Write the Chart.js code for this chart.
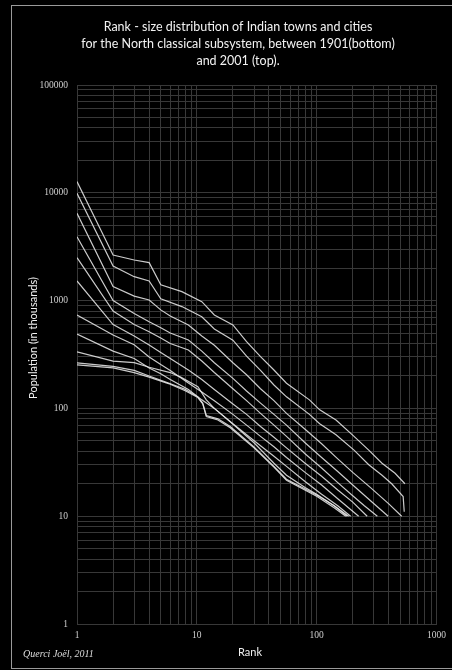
<!DOCTYPE html>
<html>
<head>
<meta charset="utf-8">
<script src="https://cdn.jsdelivr.net/npm/chart.js@4"></script>
<style>
  html, body { margin: 0; padding: 0; background: #000; }
  #wrap { width: 452px; height: 670px; position: relative; }
</style>
</head>
<body>
<div id="wrap"><canvas id="rankChart"></canvas></div>
<script>
// census years, bottom (1901) to top (2001)
const years = [1901, 1911, 1921, 1931, 1941, 1951, 1961, 1971, 1981, 1991, 2001];

// rank / population (thousands), one pair per census
const rank1901 = [1, 2, 3, 4, 5.8, 8, 10.2, 11.2, 12, 15, 19, 30, 44, 56, 100, 140, 175];
const pop1901  = [253, 238, 215, 195, 170, 146, 126, 110, 84, 78, 66, 43, 28.5, 21.5, 15.3, 12, 10];
const rank1911 = [1, 2, 3, 4, 5.8, 8, 10.2, 11.2, 12, 15, 19, 30, 44, 56, 100, 140, 180];
const pop1911  = [264, 245, 225, 200, 172, 150, 128, 112, 86, 80, 68, 44, 29, 22, 15.7, 12.5, 10];
const rank1921 = [1, 2, 3, 4, 6, 7.4, 10.2, 12, 14, 19, 30, 44, 56, 80, 100, 140, 185];
const pop1921  = [334, 275, 266, 241, 215, 194, 159, 120, 100, 75, 48, 31, 24, 18.5, 16, 12.5, 10];
const rank1931 = [1, 2, 3, 4, 5, 6, 8.5, 11, 14, 20, 26, 34, 44, 56, 80, 110, 150, 192];
const pop1931  = [490, 340, 290, 237, 210, 185, 150, 120, 100, 72, 57, 45, 36, 29, 21, 16, 12.5, 10];
const rank1941 = [1, 2, 3, 4, 5, 6, 8.5, 11, 14, 20, 26, 34, 44, 56, 80, 110, 150, 224];
const pop1941  = [735, 480, 390, 300, 255, 225, 172, 142, 118, 88, 70, 55, 44, 35, 25.5, 19.5, 14.5, 10];
const rank1951 = [1, 2, 3, 4, 5, 6, 8.5, 11, 14, 20, 26, 34, 44, 56, 80, 110, 150, 200, 264];
const pop1951  = [1520, 600, 470, 387, 330, 290, 227, 185, 150, 110, 88, 68, 54, 43, 31, 23.5, 17.5, 13.5, 10];
const rank1961 = [1, 2, 3, 4, 5, 6, 8.5, 11, 14, 20, 26, 34, 44, 56, 80, 110, 150, 200, 250, 321];
const pop1961  = [2500, 800, 600, 515, 450, 400, 348, 275, 215, 152, 118, 90, 70, 55, 38, 28, 20.5, 15.5, 12.5, 10];
const rank1971 = [1, 2, 3, 4, 5, 6, 8.5, 11, 14, 20, 26, 34, 44, 56, 80, 110, 150, 200, 280, 395];
const pop1971  = [3915, 1000, 760, 637, 560, 500, 431, 340, 265, 190, 145, 112, 88, 70, 48, 35, 26, 19.5, 14, 10];
const rank1981 = [1, 2, 3, 4, 5, 6, 8.5, 11, 14, 20, 26, 34, 44, 56, 80, 110, 150, 200, 280, 400, 512];
const pop1981  = [6450, 1350, 1100, 1013, 820, 720, 594, 470, 385, 265, 205, 152, 118, 90, 64, 47, 34, 25.5, 18.5, 13, 10];
const rank1991 = [1, 2, 3, 4, 5, 7.5, 11, 14, 20, 26, 34, 44, 56, 87, 106, 145, 205, 272, 351, 423, 527, 538];
const pop1991  = [9890, 2094, 1667, 1520, 1040, 880, 709, 545, 430, 305, 225, 165, 128, 88, 72, 57, 41, 30, 24, 20, 15.2, 11];
const rank2001 = [1, 2, 3, 4, 5, 7.5, 11, 14, 20, 26, 34, 44, 56, 87, 106, 145, 205, 272, 351, 451, 545];
const pop2001  = [12700, 2650, 2380, 2250, 1400, 1210, 977, 735, 594, 416, 302, 227, 171, 120, 97, 78, 55, 41, 31, 25, 20];

const rankLabels = [1, 10, 100, 1000];
const popLabels = [1, 10, 100, 1000, 10000, 100000];

const series = [
  [rank1901, pop1901], [rank1911, pop1911], [rank1921, pop1921], [rank1931, pop1931],
  [rank1941, pop1941], [rank1951, pop1951], [rank1961, pop1961], [rank1971, pop1971],
  [rank1981, pop1981], [rank1991, pop1991], [rank2001, pop2001]
];

// log grid: 1..9, 10..90, ... up to the top decade
function logTicks(max) {
  const out = [];
  for (let d = 1; d < max; d *= 10) {
    for (let k = 1; k < 10; k++) out.push({ value: k * d });
  }
  out.push({ value: max });
  return out;
}

const frame = {
  id: "frame",
  afterDraw(chart) {
    const c = chart.ctx;
    c.save();
    c.strokeStyle = "#9a9a9a";
    c.lineWidth = 1;
    c.strokeRect(11.5, 5.5, 460, 663);

    c.fillStyle = "#f2f2f2";
    c.textAlign = "center";
    c.textBaseline = "middle";
    c.font = "12.5px Lato";
    c.fillText("Rank - size distribution of Indian towns and cities", 238, 27);
    c.fillText("for the North classical subsystem, between 1901(bottom)", 238, 44);
    c.fillText("and 2001 (top).", 238, 61);

    c.font = "11px Lato";
    c.fillText("Rank", 250, 652);
    c.save();
    c.translate(33, 338);
    c.rotate(-Math.PI / 2);
    c.fillText("Population (in thousands)", 0, 0);
    c.restore();

    c.textAlign = "left";
    c.font = "italic 10px 'Liberation Serif'";
    c.fillStyle = "#dddddd";
    c.fillText("Querci Joël, 2011", 23, 654);
    c.restore();
  }
};

new Chart(document.getElementById("rankChart"), {
  type: "line",
  data: {
    datasets: series.map(([r, p], i) => ({
      label: String(years[i]),
      data: r.map((x, j) => ({ x: x, y: p[j] })),
      borderColor: "rgba(230, 230, 230, 0.88)",
      borderWidth: 1.2,
      pointRadius: 0,
      tension: 0,
      fill: false,
    })),
  },
  options: {
    responsive: true,
    maintainAspectRatio: false,
    animation: false,
    layout: { padding: { top: 85, right: 10, left: 0, bottom: 0 } },
    plugins: { legend: { display: false }, tooltip: { enabled: false } },
    scales: {
      x: {
        type: "logarithmic",
        min: 1,
        max: 1000,
        afterBuildTicks: (s) => { s.ticks = logTicks(1000); },
        afterFit: (s) => { s.height = 46; },
        grid: { color: "#383838", lineWidth: 1, drawTicks: false },
        border: { color: "#383838" },
        ticks: {
          autoSkip: false,
          maxRotation: 0,
          padding: 6,
          color: "#cfcfcf",
          font: { family: "'Liberation Serif'", size: 9.5 },
          callback: (v) => (rankLabels.includes(v) ? String(v) : ""),
        },
      },
      y: {
        type: "logarithmic",
        min: 1,
        max: 100000,
        afterBuildTicks: (s) => { s.ticks = logTicks(100000); },
        afterFit: (s) => { s.width = 77; },
        grid: { color: "#383838", lineWidth: 1, drawTicks: false },
        border: { color: "#383838" },
        ticks: {
          autoSkip: false,
          padding: 9,
          color: "#cfcfcf",
          font: { family: "'Liberation Serif'", size: 9.5 },
          callback: (v) => (popLabels.includes(v) ? String(v) : ""),
        },
      },
    },
  },
  plugins: [frame],
});
</script>
</body>
</html>
